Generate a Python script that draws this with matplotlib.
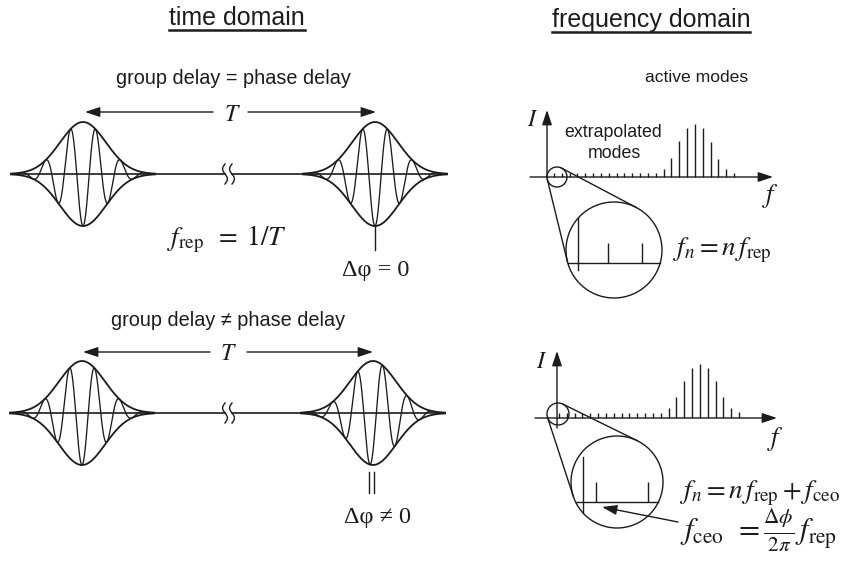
import numpy as np
import matplotlib
matplotlib.use('Agg')
import matplotlib.pyplot as plt
from matplotlib.patches import Circle

plt.rcParams['mathtext.fontset'] = 'stix'
plt.rcParams['font.family'] = ['Liberation Sans', 'DejaVu Sans']

INK = '#1c1c1c'
SERIF = ['Liberation Serif', 'DejaVu Serif']

# time domain: pulse trains (pixel units of the sketch)
row_baselines = [174, 413]
row_pulse_centers = [[83, 375], [82, 373]]
row_carrier_phase = [[0.0, 0.0], [0.0, 0.75]]   # second pulse slips in the lower row
pulse_amp = 52
pulse_sigma = 23
carrier_period = 25

# frequency domain: comb line heights
comb_heights_top = [4.5, 4.5, 4.5, 4.5, 4.5, 4.5, 4.5, 4.5, 4.5, 4.5, 4.5, 4.5, 4.5, 4.5,
                    8, 19, 36, 49, 53, 49, 35, 18, 8, 4]
comb_heights_bot = [5, 5, 5, 5, 5, 5, 5, 5, 5, 5, 5, 5, 5, 5,
                    10, 21, 37, 50, 54, 50, 37, 21, 10, 6]
comb_start = [554, 559]
comb_step = 7.83
zoom_modes_top = [608, 642]
zoom_modes_bot = [596, 648]
zoom_mode_height = 20

fig = plt.figure(figsize=(8.43, 5.62), dpi=100)
ax = fig.add_axes([0, 0, 1, 1])
ax.set_xlim(0, 843)
ax.set_ylim(562, 0)
ax.set_aspect('equal')
ax.axis('off')


def pulse(x0, y0, phase):
    x = np.linspace(x0 - 72, x0 + 72, 3000)
    env = pulse_amp * np.exp(-(x - x0) ** 2 / (2 * pulse_sigma ** 2))
    car = -np.cos(2 * np.pi * (x - x0) / carrier_period + phase)
    ax.plot(x, y0 - env, color=INK, lw=1.3)
    ax.plot(x, y0 + env, color=INK, lw=1.3)
    ax.plot(x, y0 - env * car, color=INK, lw=0.95)


def squiggle(xc, y0):
    t = np.linspace(-1, 1, 60)
    ax.plot(xc + 2.4 * np.sin(np.pi * t), y0 + 10 * t, color=INK, lw=1.0)


def arrow(x1, y1, x2, y2):
    ax.annotate('', xy=(x2, y2), xytext=(x1, y1),
                arrowprops=dict(arrowstyle='-|>,head_length=0.9,head_width=0.3',
                                color=INK, lw=1.0, shrinkA=0, shrinkB=0))


for r in range(2):
    y0 = row_baselines[r]
    c1, c2 = row_pulse_centers[r]
    ax.plot([c1 - 72, 225], [y0, y0], color=INK, lw=1.2)
    ax.plot([232, c2 + 72], [y0, y0], color=INK, lw=1.2)
    squiggle(225, y0)
    squiggle(232, y0)
    pulse(c1, y0, row_carrier_phase[r][0])
    pulse(c2, y0, row_carrier_phase[r][1])

# T arrows
arrow(213, 112, 85, 112)
arrow(248, 112, 376, 112)
arrow(210, 352, 83, 352)
arrow(247, 352, 373, 352)
ax.text(232, 121, r'$T$', fontsize=17, ha='center', va='baseline', color=INK)
ax.text(228, 360, r'$T$', fontsize=17, ha='center', va='baseline', color=INK)

ax.text(233, 84, 'group delay = phase delay', fontsize=14.3, ha='center', va='baseline', color=INK)
ax.text(228, 326, 'group delay \u2260 phase delay', fontsize=14.3, ha='center', va='baseline', color=INK)

# phase markers
ax.plot([375, 375], [226, 250], color=INK, lw=1.0)
ax.plot([369, 369], [472, 493], color=INK, lw=1.0)
ax.plot([374, 374], [472, 493], color=INK, lw=1.0)
ax.text(167, 245, r'$f_{\mathrm{rep}}\;\;=\;1/T$', fontsize=19.5, ha='left', va='baseline', color=INK)
ax.text(376, 276, '\u0394\u03c6 = 0', fontsize=17.5, ha='center', va='baseline', color=INK,
        family=SERIF)
ax.text(377, 523, '\u0394\u03c6 \u2260 0', fontsize=17.5, ha='center', va='baseline', color=INK,
        family=SERIF)


def tangents(c1, r1, c2, r2):
    c1 = np.array(c1, float)
    c2 = np.array(c2, float)
    d = c2 - c1
    D = np.hypot(*d)
    u = d / D
    p = np.array([-u[1], u[0]])
    a = np.arccos((r2 - r1) / D)
    for s in (1, -1):
        n = np.cos(a) * u + s * np.sin(a) * p
        q1 = c1 - r1 * n
        q2 = c2 - r2 * n
        ax.plot([q1[0], q2[0]], [q1[1], q2[1]], color=INK, lw=1.0)


def comb(ax_y, ax_x, x_start, x_end, heights, x0, small, big, chord_y, tall, modes):
    arrow(x_start, ax_y, x_end, ax_y)
    arrow(ax_x, ax_y + tall[2], ax_x, ax_y - 67)
    xs = x0 + comb_step * np.arange(len(heights))
    ax.vlines(xs, ax_y - np.array(heights), ax_y, color=INK, lw=1.0)
    ax.add_patch(Circle(small[:2], small[2], fill=False, ec=INK, lw=1.0))
    ax.add_patch(Circle(big[:2], big[2], fill=False, ec=INK, lw=1.0))
    tangents(small[:2], small[2], big[:2], big[2])
    half = np.sqrt(big[2] ** 2 - (chord_y - big[1]) ** 2)
    ax.plot([big[0] - half, big[0] + half], [chord_y, chord_y], color=INK, lw=1.0)
    ax.plot([tall[0], tall[0]], [tall[1], chord_y + tall[3]], color=INK, lw=1.0)
    ax.vlines(modes, chord_y - zoom_mode_height, chord_y, color=INK, lw=1.0)


comb(177, 547, 530, 773, comb_heights_top, comb_start[0],
     (557, 177, 10), (614, 250, 48), 263, (578, 218, 0, 7), zoom_modes_top)
comb(418, 557, 535, 777, comb_heights_bot, comb_start[1],
     (558, 414, 11), (617, 482, 46), 502, (583, 457, 10, 11), zoom_modes_bot)

ax.text(533, 126, r'$I$', fontsize=17, ha='center', va='baseline', color=INK)
ax.text(771, 196, r'$f$', fontsize=19, ha='center', va='center', color=INK)
ax.text(542, 368, r'$I$', fontsize=17, ha='center', va='baseline', color=INK)
ax.text(776, 439, r'$f$', fontsize=19, ha='center', va='center', color=INK)

ax.text(697, 82, 'active modes', fontsize=12.6, ha='center', va='baseline', color=INK)
ax.text(613, 137, 'extrapolated', fontsize=12.8, ha='center', va='baseline', color=INK)
ax.text(614, 158, 'modes', fontsize=12.8, ha='center', va='baseline', color=INK)

ax.text(673, 255, r'$f_n = n\,f_{\mathrm{rep}}$', fontsize=19.5, ha='left', va='baseline', color=INK)
ax.text(680, 498, r'$f_n = n\,f_{\mathrm{rep}} + f_{\mathrm{ceo}}$', fontsize=19.5,
        ha='left', va='baseline', color=INK)
ax.text(680, 530, r'$f_{\mathrm{ceo}}\;\,=\frac{\Delta\phi}{2\pi}\,f_{\mathrm{rep}}$', fontsize=22,
        ha='left', va='center', color=INK)
arrow(678, 522, 602, 507)

# underlined headings
heads = [(237, 25, 'time domain'), (651, 27, 'frequency domain')]
fig.canvas.draw()
inv = ax.transData.inverted()
for hx, hy, label in heads:
    t = ax.text(hx, hy, label, fontsize=18, ha='center', va='baseline', color=INK)
    bb = t.get_window_extent(renderer=fig.canvas.get_renderer())
    (xa, _), (xb, _) = inv.transform([[bb.x0, bb.y0], [bb.x1, bb.y1]])
    ax.plot([xa, xb], [hy + 5, hy + 5], color=INK, lw=1.8)

fig.savefig('out.png', dpi=100, facecolor='white')
